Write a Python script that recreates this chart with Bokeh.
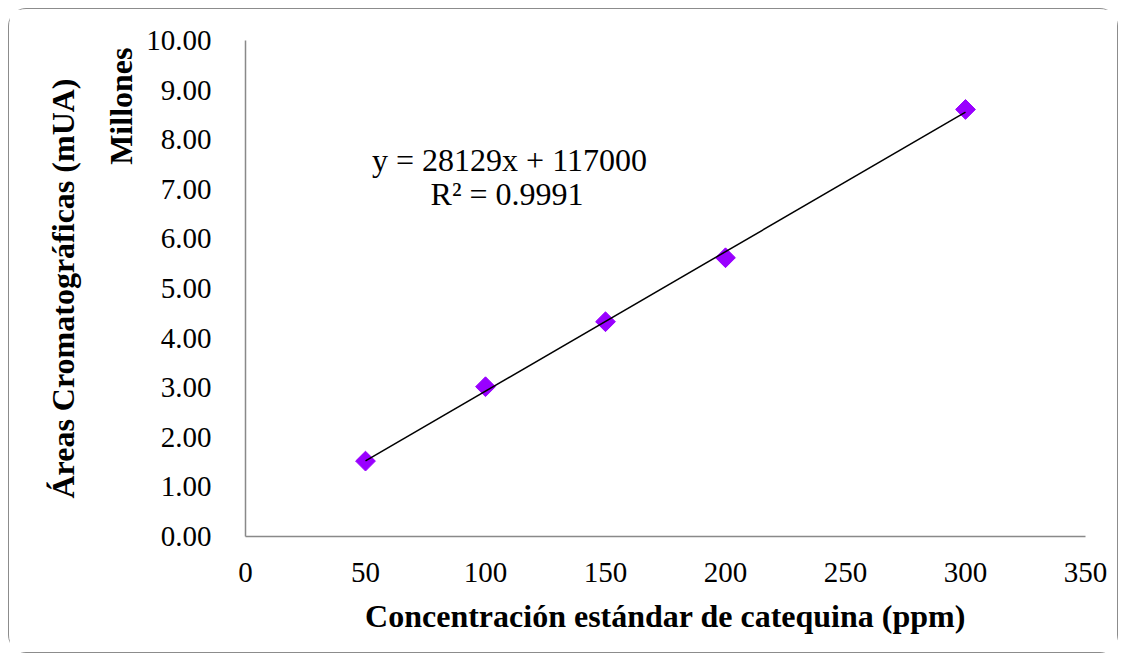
from bokeh.plotting import figure
from bokeh.models import Label, Title, SingleIntervalTicker, PrintfTickFormatter
from bokeh.embed import file_html
from bokeh.resources import INLINE
import math

# Data
concentracion = [50, 100, 150, 200, 300]          # ppm
areas_millones = [1.52, 3.02, 4.33, 5.62, 8.61]   # mUA, millions
slope = 28129
intercept = 117000
eq_text = "y = 28129x + 117000"
r2_text = "R\u00b2 = 0.9991"
x_title = "Concentraci\u00f3n est\u00e1ndar de catequina (ppm)"
y_title = "\u00c1reas Cromatogr\u00e1ficas (mUA)"
y_units = "Millones"

FONT = "Liberation Serif"

p = figure(width=1110, height=645, x_range=(0, 350), y_range=(0, 10),
           output_backend="svg", toolbar_location=None,
           min_border_left=236, min_border_right=34,
           min_border_top=31, min_border_bottom=118)
p.styles = {"border": "1.5px solid #8c8c8c", "border-radius": "18px", "margin": "8px"}
p.outline_line_color = None
p.xgrid.visible = False
p.ygrid.visible = False
p.background_fill_color = "white"
p.border_fill_color = "white"

for ax in (p.xaxis[0], p.yaxis[0]):
    ax.axis_line_color = "#898989"
    ax.axis_line_width = 1.5
    ax.major_tick_line_color = None
    ax.minor_tick_line_color = None
    ax.major_label_text_font = FONT
    ax.major_label_text_font_size = "29px"
    ax.major_label_text_color = "black"

p.xaxis[0].ticker = SingleIntervalTicker(interval=50)
p.yaxis[0].ticker = SingleIntervalTicker(interval=1)
p.yaxis[0].formatter = PrintfTickFormatter(format="%.2f")
p.xaxis[0].major_label_standoff = 20
p.yaxis[0].major_label_standoff = 28

p.xaxis[0].axis_label = x_title
p.xaxis[0].axis_label_text_font = FONT
p.xaxis[0].axis_label_text_font_size = "32px"
p.xaxis[0].axis_label_text_font_style = "bold"
p.xaxis[0].axis_label_text_color = "black"
p.xaxis[0].axis_label_standoff = 13

p.add_layout(Title(text=y_units, align="right", offset=7, standoff=9, text_font=FONT,
                   text_font_size="32px", text_font_style="bold", text_color="black"), "left")
p.add_layout(Title(text=y_title, align="center", standoff=32, text_font=FONT,
                   text_font_size="32px", text_font_style="bold", text_color="black"), "left")

p.scatter(concentracion, areas_millones, marker="square", size=14, angle=math.pi / 4,
          fill_color="#9900FF", line_color="#9900FF")

x_fit = [concentracion[0], concentracion[-1]]
y_fit = [(slope * x + intercept) / 1e6 for x in x_fit]
p.line(x_fit, y_fit, line_color="black", line_width=1.5)

p.add_layout(Label(x=110, y=7.6, text=eq_text, text_align="center", text_baseline="middle",
                   text_font=FONT, text_font_size="32px", text_color="black"))
p.add_layout(Label(x=109, y=6.9, text=r2_text, text_align="center", text_baseline="middle",
                   text_font=FONT, text_font_size="32px", text_color="black"))

open("out.html", "w").write(file_html(p, INLINE))
